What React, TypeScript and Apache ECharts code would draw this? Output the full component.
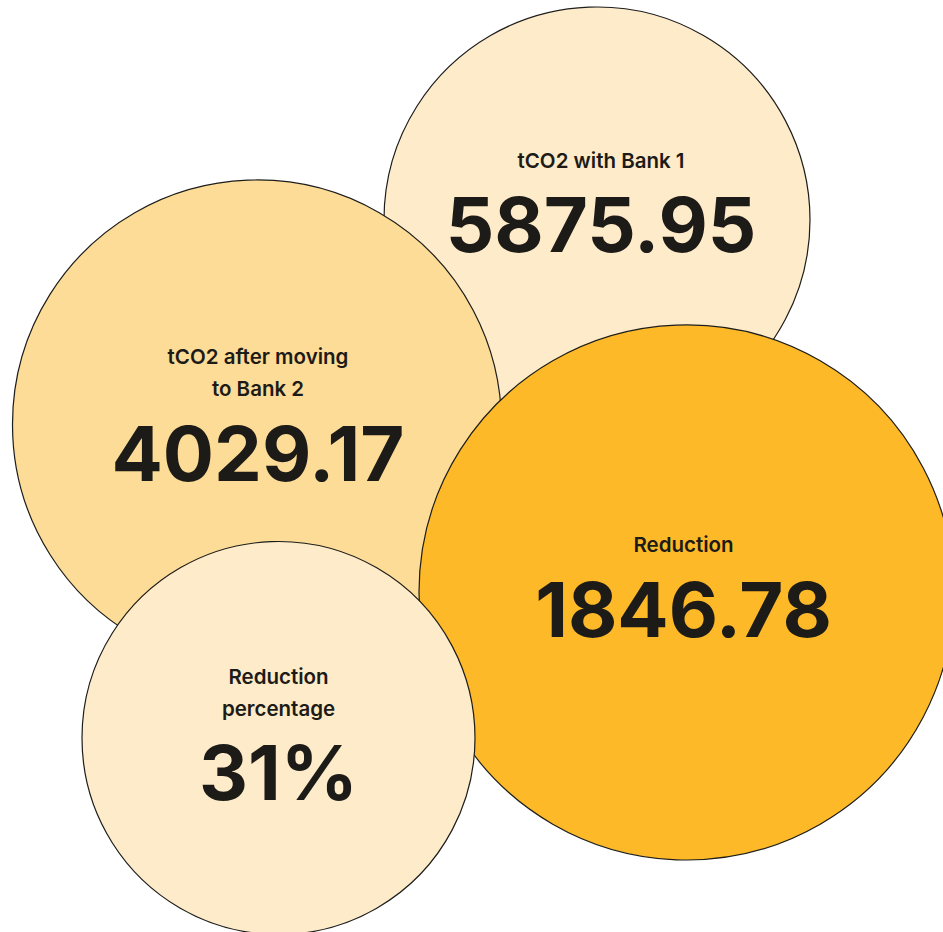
import React, { useEffect, useRef } from "react";
import * as echarts from "echarts";

// Data
const titles: string[] = ["tCO2 with Bank 1", "tCO2 after moving\nto Bank 2", "Reduction", "Reduction\npercentage"];
const values: number[] = [5875.95, 4029.17, 1846.78, 31];
const units: string[] = ["", "", "", "%"];
const decimals: number[] = [2, 2, 2, 0];

// Layout (bubble placement, pixels)
const centerX: number[] = [597, 257, 686.5, 278.5];
const centerY: number[] = [220, 424.5, 592.5, 738];
const radius: number[] = [213, 244.5, 267.5, 196.5];
const fills: string[] = ["#FEEBC9", "#FDDC97", "#FDB927", "#FEEBC9"];
const labelDx: number[] = [4, 1, -3, 0];
const labelDy: number[] = [-12, -4, 0, 2];

const W = 943;
const H = 932;

export default function App() {
  const ref = useRef<HTMLDivElement>(null);
  useEffect(() => {
    if (!ref.current) return;
    const chart = echarts.init(ref.current, undefined, { renderer: "svg" });
    const data = values.map((v, i) => ({
      value: [centerX[i], centerY[i], v],
      symbolSize: radius[i] * 2,
      itemStyle: { color: fills[i] },
      label: { offset: [labelDx[i], labelDy[i]] },
      name: titles[i],
    }));
    chart.setOption({
      animation: false,
      grid: { left: 0, right: 0, top: 0, bottom: 0 },
      xAxis: { type: "value", min: 0, max: W, show: false },
      yAxis: { type: "value", min: 0, max: H, inverse: true, show: false },
      series: [
        {
          type: "scatter",
          clip: false,
          symbol: "circle",
          data,
          itemStyle: { borderColor: "#1d1d1b", borderWidth: 1.2, opacity: 1 },
          emphasis: { disabled: true },
          label: {
            show: true,
            position: "inside",
            align: "center",
            verticalAlign: "middle",
            formatter: (p: any) => {
              const i = p.dataIndex;
              const t = titles[i]
                .split("\n")
                .map((s) => `{t|${s}}`)
                .join("\n");
              return `${t}\n{v|${values[i].toFixed(decimals[i])}${units[i]}}`;
            },
            rich: {
              t: {
                fontFamily: "Inter",
                fontWeight: 600,
                fontSize: 20.5,
                lineHeight: 32,
                color: "#1d1b17",
                align: "center",
              },
              v: {
                fontFamily: "Inter",
                fontWeight: 700,
                fontSize: 76,
                lineHeight: 96,
                color: "#1d1b17",
                align: "center",
              },
            },
          },
        },
      ],
    });
    return () => chart.dispose();
  }, []);
  return (
    <div
      ref={ref}
      style={{ position: "fixed", left: 0, top: 0, width: W, height: H, background: "#fff" }}
    />
  );
}
